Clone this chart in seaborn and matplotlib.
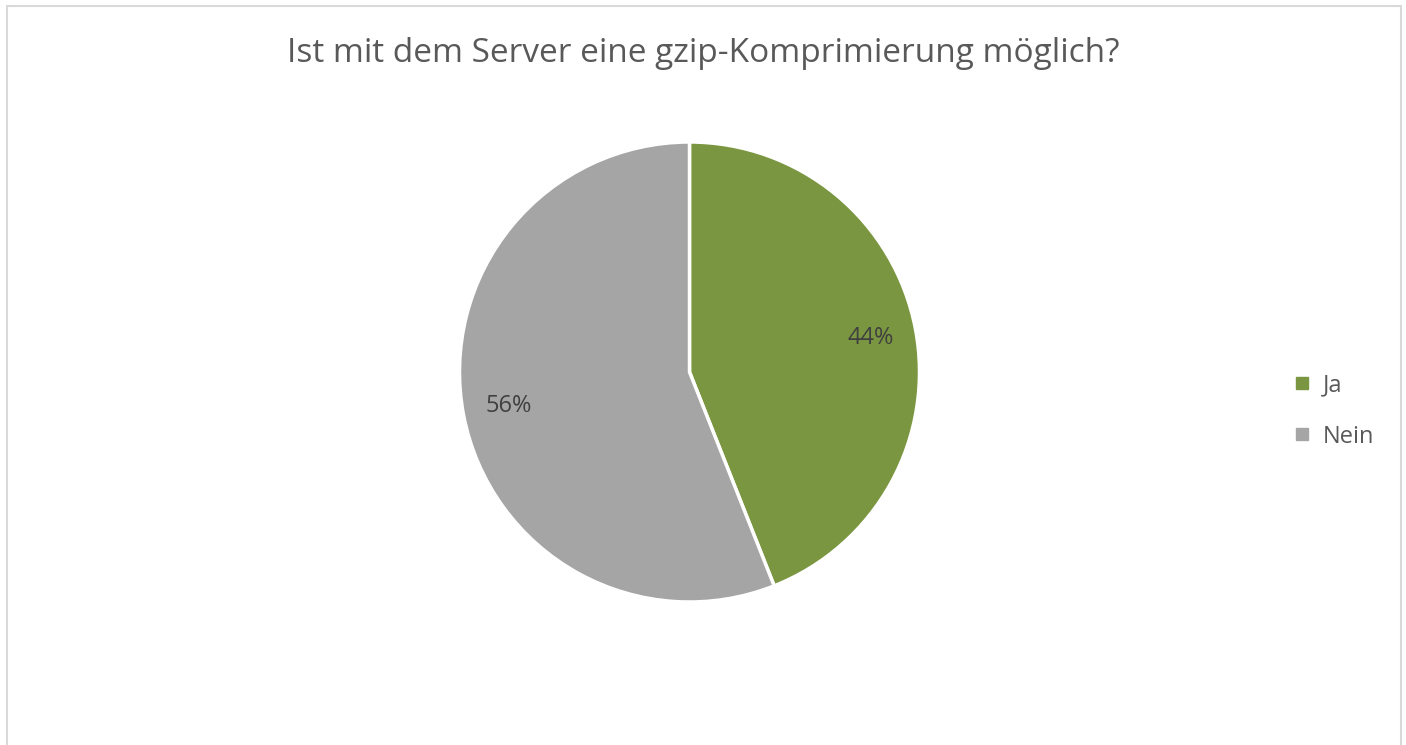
import matplotlib
matplotlib.use("Agg")
import matplotlib.pyplot as plt
import seaborn as sns
from matplotlib.lines import Line2D
from matplotlib.patches import Rectangle

# chart data
title = "Ist mit dem Server eine gzip-Komprimierung möglich?"
categories = ["Ja", "Nein"]
shares = [44, 56]
colors = ["#7a9640", "#a5a5a5"]

sns.set_theme(style="white")
plt.rcParams['font.family'] = ['Open Sans', 'DejaVu Sans']

W, H = 1406, 745
fig = plt.figure(figsize=(W / 100, H / 100), dpi=100)
fig.patch.set_facecolor("white")

# light grey frame around the chart area (bottom runs off the image)
fig.add_artist(Rectangle((6.5 / W, -0.05), (1401 - 6.5) / W, 1.05 - 5.5 / H,
                         transform=fig.transFigure, fill=False,
                         edgecolor="#d9d9d9", linewidth=1.5))

cx, cy, r = 689.5, 372, 230
ax = fig.add_axes([(cx - r) / W, 1 - (cy + r) / H, 2 * r / W, 2 * r / H])
wedges, _, autotexts = ax.pie(
    shares, colors=colors, startangle=90, counterclock=False,
    autopct=lambda p: f"{p:.0f}%", pctdistance=0.8,
    wedgeprops=dict(edgecolor="white", linewidth=2.5),
    textprops=dict(color="#404040", fontsize=17),
)
ax.set_xlim(-1, 1)
ax.set_ylim(-1, 1)
ax.set_aspect("equal")
ax.axis("off")

fig.text(0.5, 1 - 54 / H, title, ha="center", va="center",
         fontsize=24, color="#595959")

handles = [Line2D([0], [0], marker="s", linestyle="", markersize=8,
                  markerfacecolor=c, markeredgecolor=c) for c in colors]
fig.legend(handles, categories, loc="center left",
           bbox_to_anchor=(1271 / W, 1 - 411 / H), frameon=False,
           fontsize=17, labelcolor="#595959", handlelength=0.8,
           handletextpad=0.5, labelspacing=1.15)

fig.savefig("out.png", dpi=100, facecolor="white")
